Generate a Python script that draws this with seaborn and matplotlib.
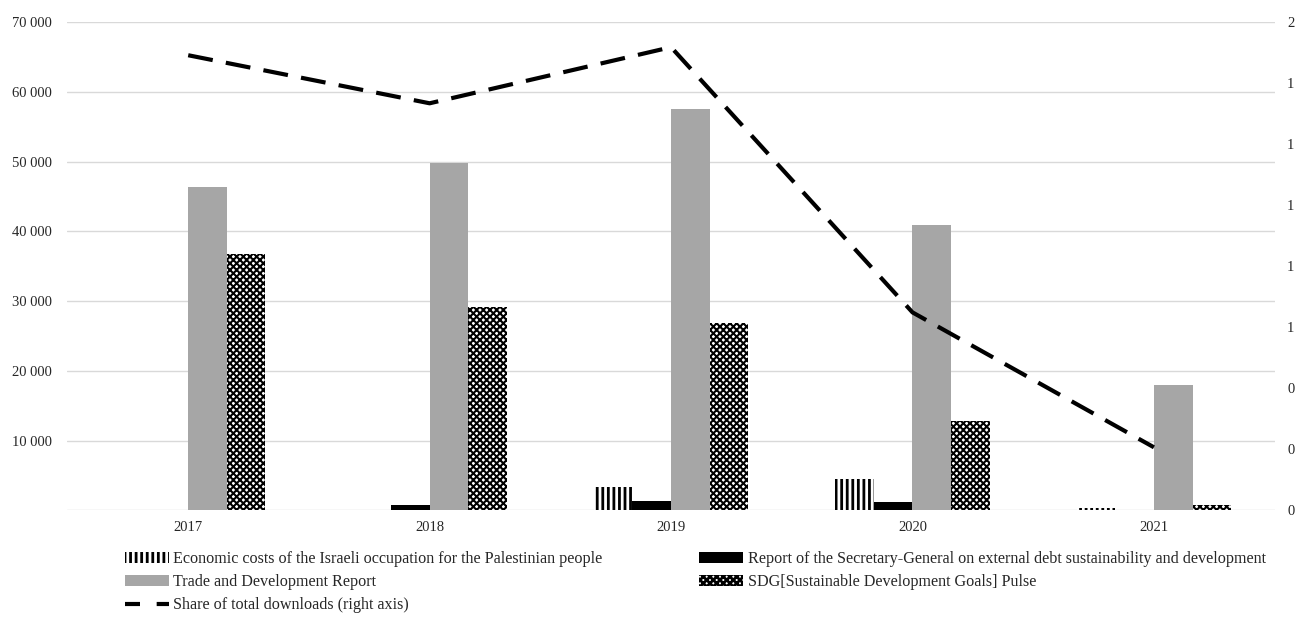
import numpy as np
import pandas as pd
import matplotlib
matplotlib.use('Agg')
import matplotlib.pyplot as plt
import seaborn as sns
from matplotlib.lines import Line2D
from matplotlib.ticker import FuncFormatter

years = ['2017', '2018', '2019', '2020', '2021']
series_names = ['Economic costs of the Israeli occupation for the Palestinian people',
                'Report of the Secretary-General on external debt sustainability and development',
                'Trade and Development Report',
                'SDG[Sustainable Development Goals] Pulse']
econ = [0, 0, 3300, 4500, 300]
debt = [0, 750, 1350, 1200, 0]
tdr = [46400, 49800, 57500, 40900, 17900]
sdg = [36700, 29200, 26900, 12800, 700]
share = [1.865, 1.668, 1.898, 0.811, 0.258]
share_name = 'Share of total downloads (right axis)'
right_labels = ['0', '0', '0', '1', '1', '1', '1', '1', '2']

sns.set_style('white')
plt.rcParams['font.family'] = ['Liberation Serif', 'DejaVu Serif']
plt.rcParams['hatch.linewidth'] = 2.0

# long table for seaborn
df = pd.DataFrame({
    'year': years * 4,
    'series': np.repeat(series_names, len(years)),
    'value': econ + debt + tdr + sdg,
})

fig = plt.figure(figsize=(12.98, 6.37), dpi=100)
ax = fig.add_axes([0.052, 0.199, 0.93, 0.766])

palette = dict(zip(series_names, ['white', 'black', '#A6A6A6', 'white']))
sns.barplot(data=df, x='year', y='value', hue='series', hue_order=series_names,
            order=years, palette=palette, width=0.64, ax=ax, legend=False,
            errorbar=None, linewidth=0, saturation=1)

hatches = ['|||', None, None, 'xxxxx']
hatch_lw = [2.0, None, None, 1.5]
for cont, h, hl in zip(ax.containers, hatches, hatch_lw):
    for bar in cont:
        bar.set_linewidth(0)
        if h:
            bar.set_hatch(h)
            bar.set_edgecolor('black')
            try:
                bar.set_hatch_linewidth(hl)
            except AttributeError:
                pass

ax.set_ylim(0, 70000)
ax.set_yticks(np.arange(0, 70001, 10000))
ax.yaxis.set_major_formatter(FuncFormatter(lambda v, p: '' if v == 0 else f'{int(v):,}'.replace(',', ' ')))
ax.grid(axis='y', color='#D9D9D9', linewidth=1)
ax.set_axisbelow(True)
ax.set_xlabel('')
ax.set_ylabel('')
ax.tick_params(axis='y', length=0, labelsize=10.5, pad=11)
ax.tick_params(axis='x', length=0, labelsize=10.5, pad=8)
for s in ax.spines.values():
    s.set_visible(False)

ax2 = ax.twinx()
sns.lineplot(x=np.arange(len(years)), y=share, ax=ax2, color='black',
             linewidth=3.0, legend=False)
ax2.lines[0].set_dashes((6, 3.2))
ax2.set_ylim(0, 2)
ax2.set_yticks(np.linspace(0, 2, 9))
ax2.set_yticklabels(right_labels)
ax2.tick_params(axis='y', length=0, labelsize=10.5, pad=9)
for s in ax2.spines.values():
    s.set_visible(False)
ax.set_xlim(-0.5, len(years) - 0.5)

# legend: column-first order
bar_handles = [cont.patches[0] for cont in ax.containers]
line_handle = Line2D([], [], color='black', linewidth=3.0, dashes=(3.6, 4.0))
handles = [bar_handles[0], bar_handles[2], line_handle, bar_handles[1], bar_handles[3]]
labels = [series_names[0], series_names[2], share_name, series_names[1], series_names[3]]
fig.legend(handles, labels, ncol=2, loc='upper left', bbox_to_anchor=(0.0902, 0.148),
           frameon=False, fontsize=11.6, handlelength=2.7, handletextpad=0.3,
           columnspacing=6.0, labelspacing=0.45, borderpad=0)

fig.savefig('out.png', dpi=100)
